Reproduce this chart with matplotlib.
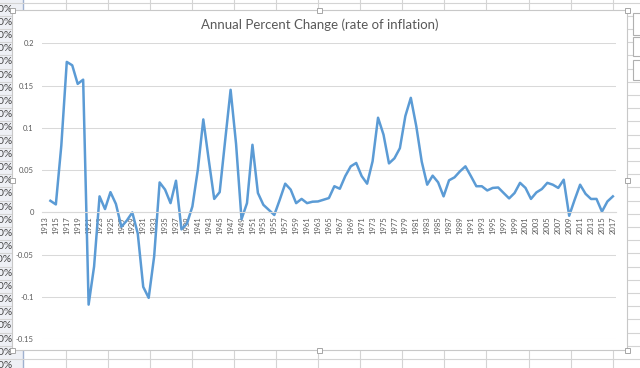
import numpy as np
import matplotlib
matplotlib.use('Agg')
import matplotlib.pyplot as plt
from matplotlib.patches import Rectangle

plt.rcParams['font.family'] = ['Lato', 'DejaVu Sans']

# Data (1913 is the base year, no change)
years = list(range(1913, 2018))
inflation = [
    np.nan, 0.0138, 0.0095, 0.079, 0.178, 0.174, 0.152, 0.157,          # 1913-1920
    -0.109, -0.064, 0.019, 0.004, 0.024, 0.010, -0.017, -0.0095, 0.0, -0.025,  # 1921-1930
    -0.088, -0.101, -0.052, 0.0355, 0.027, 0.011, 0.0375, -0.020, -0.0134, 0.007,  # 1931-1940
    0.0505, 0.110, 0.062, 0.016, 0.024, 0.085, 0.145, 0.081, -0.008, 0.011,  # 1941-1950
    0.080, 0.023, 0.009, 0.003, -0.003, 0.015, 0.034, 0.027, 0.011, 0.016,  # 1951-1960
    0.011, 0.0127, 0.013, 0.015, 0.017, 0.031, 0.028, 0.043, 0.0545, 0.0585,  # 1961-1970
    0.043, 0.034, 0.0605, 0.112, 0.092, 0.058, 0.064, 0.076, 0.114, 0.1355,  # 1971-1980
    0.102, 0.060, 0.0328, 0.0435, 0.0356, 0.019, 0.038, 0.0415, 0.0486, 0.0545,  # 1981-1990
    0.043, 0.031, 0.031, 0.026, 0.029, 0.0295, 0.023, 0.0166, 0.023, 0.035,  # 1991-2000
    0.029, 0.016, 0.0237, 0.0277, 0.035, 0.0328, 0.029, 0.0387, -0.0039, 0.015,  # 2001-2010
    0.0328, 0.022, 0.0159, 0.016, 0.001, 0.013, 0.019,                  # 2011-2017
]
ytick_values = [-0.15, -0.1, -0.05, 0, 0.05, 0.1, 0.15, 0.2]
ytick_labels = ['-0.15', '-0.1', '-0.05', '0', '0.05', '0.1', '0.15', '0.2']
title = 'Annual Percent Change (rate of inflation)'

# text in the spreadsheet column peeking out on the left
cell_text = ['70%', '80%', '30%', '20%', '60%', '90%', '20%', '10%', '10%', '10%',
             '70%', '60%', '80%', '10%', '70%', '90%', '30%', '20%', '60%', '40%',
             '70%', '00%', '90%', '70%', '0%', '90%', '10%', '30%']

fig = plt.figure(figsize=(6.4, 3.68), dpi=100)

# spreadsheet behind the chart, pixel coordinates
bg = fig.add_axes([0, 0, 1, 1], zorder=0)
bg.set_xlim(0, 640)
bg.set_ylim(368, 0)
bg.axis('off')
bg.add_patch(Rectangle((0, 0), 23, 368, facecolor='#eef0f5', edgecolor='none'))
for x in np.arange(65.5, 640, 42.1):
    bg.axvline(x, color='#d4d4d4', lw=0.8)
bg.axvline(23, color='#9fb1cf', lw=1)
for y in np.arange(2.5, 368, 13.2):
    bg.axhline(y, color='#d4d4d4', lw=0.8)
for y, t in zip(np.arange(9, 368, 13.2), cell_text):
    bg.text(12.5, y, t, ha='right', va='center', fontsize=7.5, color='#444444')

# chart area with selection handles
bg.add_patch(Rectangle((12, 10), 615, 340, facecolor='white',
                       edgecolor='#c8c8c8', lw=0.8, zorder=3))
for hx, hy in [(12, 10), (319.5, 10), (627, 10), (12, 350), (319.5, 350),
               (627, 350), (12, 180), (627, 180)]:
    bg.add_patch(Rectangle((hx - 2.5, hy - 2.5), 5, 5, facecolor='white',
                           edgecolor='#a6a6a6', lw=0.7, zorder=4))
for y0, h in [(13, 22), (37, 19), (60, 20)]:
    bg.add_patch(Rectangle((633, y0), 14, h, facecolor='white',
                           edgecolor='#b0b0b0', lw=0.8, zorder=4))
bg.text(319.5, 25, title, ha='center', va='center', fontsize=9.5,
        color='#595959', zorder=5)

# plot area
ax = fig.add_axes([42.2 / 640, 1 - 339.3 / 368, (615.6 - 42.2) / 640,
                   (339.3 - 43.3) / 368], zorder=5)
ax.patch.set_alpha(0)
ax.plot(years, inflation, color='#5B9BD5', lw=1.8)
ax.set_xlim(1912.5, 2017.5)
ax.set_ylim(-0.15, 0.2)
for s in ax.spines.values():
    s.set_visible(False)
ax.spines['bottom'].set_visible(True)
ax.spines['bottom'].set_position(('data', 0))
ax.spines['bottom'].set_color('#d9d9d9')
ax.set_yticks(ytick_values)
ax.set_yticklabels(ytick_labels)
ax.set_xticks(years[::2])
ax.set_xticklabels([str(y) for y in years[::2]])
ax.grid(axis='y', color='#d9d9d9', lw=0.75)
ax.set_axisbelow(True)
ax.tick_params(axis='both', length=0, labelsize=5.5, labelcolor='#595959')
ax.tick_params(axis='x', pad=3, labelrotation=90)
ax.tick_params(axis='y', pad=6)

fig.savefig('out.png', dpi=100)
